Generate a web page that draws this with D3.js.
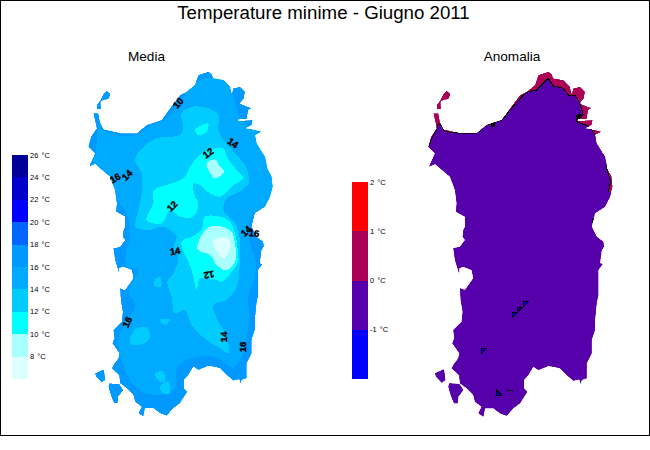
<!DOCTYPE html>
<html><head><meta charset="utf-8">
<script src="https://cdnjs.cloudflare.com/ajax/libs/d3/7.8.5/d3.min.js"></script>
<style>
html,body{margin:0;padding:0;background:#fff}
svg{display:block}
text{font-family:"Liberation Sans",Arial,sans-serif;fill:#000}
path.m{shape-rendering:crispEdges}
</style></head><body>
<svg id="c" width="650" height="450"></svg>
<script>
// Map data on a common grid (units of the map grid, y grows southward)
const mainland=[[355,15],[370,10],[385,5],[395,12],[400,25],[430,30],[450,50],[455,72],[460,55],[480,50],[495,65],[492,85],[480,100],[490,105],[515,115],[505,120],[500,148],[475,148],[475,153],[518,150],[515,165],[495,175],[525,180],[545,185],[525,195],[530,220],[545,245],[555,260],[562,295],[575,320],[578,350],[570,380],[555,410],[525,430],[515,470],[530,500],[550,515],[552,530],[545,540],[540,580],[548,582],[535,600],[535,640],[535,675],[530,700],[525,750],[525,780],[515,810],[515,850],[500,880],[500,925],[485,930],[482,942],[478,928],[460,932],[440,915],[420,895],[400,890],[385,888],[355,900],[340,890],[325,915],[312,930],[312,955],[322,965],[300,1000],[280,1015],[260,1037],[240,1030],[220,1015],[195,1015],[190,1040],[175,1030],[185,1010],[165,995],[160,975],[140,955],[120,940],[117,915],[95,895],[100,885],[115,865],[118,850],[97,820],[103,805],[100,780],[125,755],[128,725],[122,690],[120,655],[135,660],[160,625],[155,600],[130,590],[118,595],[117,610],[105,570],[100,535],[120,530],[135,510],[128,500],[130,480],[135,470],[135,440],[108,425],[110,400],[105,360],[90,320],[60,295],[45,282],[27,290],[35,272],[45,250],[25,230],[33,200],[50,175],[40,130],[55,130],[60,155],[70,178],[125,190],[170,190],[200,165],[245,150],[270,115],[300,75],[320,65],[345,45]];
const asinara=[[80,62],[92,72],[85,88],[70,90],[62,95],[63,118],[50,118],[50,105],[60,92],[70,72]];
const sanPietro=[[45,910],[72,898],[76,930],[65,938],[48,920]];
const santAntioco=[[88,940],[118,942],[130,960],[115,980],[113,1000],[102,1000],[92,975],[85,950]];
const land=[mainland,asinara,sanPietro,santAntioco];

// Isotherm zones of the mean map, painted in this order; tick = legend value at the top of the band
const zone16=[[55,178],[115,197],[170,195],[210,168],[255,148],[290,112],[318,70],[360,30],[400,22],[445,35],[458,72],[470,110],[482,150],[530,185],[548,235],[565,290],[575,325],[578,360],[555,405],[520,432],[505,480],[510,520],[525,560],[525,620],[505,680],[508,750],[500,800],[490,850],[460,893],[420,868],[385,858],[345,863],[320,868],[290,895],[285,955],[230,975],[185,965],[160,945],[130,885],[115,825],[120,790],[165,705],[145,665],[175,600],[140,590],[140,535],[150,510],[140,430],[115,395],[90,345],[60,295],[40,275],[48,250],[50,215]];
const zone14=[[190,230],[230,205],[300,195],[310,175],[305,130],[340,110],[385,115],[415,135],[415,180],[430,210],[465,250],[500,295],[505,340],[480,365],[440,385],[430,420],[470,465],[480,520],[478,600],[470,650],[440,690],[400,705],[415,755],[440,800],[445,850],[420,835],[380,810],[335,765],[315,720],[285,730],[275,680],[262,635],[280,610],[295,560],[280,530],[290,500],[270,480],[250,470],[205,480],[165,470],[170,440],[185,370],[185,310],[165,270]];
const patch14a=[[225,630],[240,620],[243,650],[225,650]];
const patch14b=[[240,750],[270,750],[255,765]];
const patch14c=[[150,820],[165,778],[200,772],[210,800],[195,820]];
const patch14d=[[225,910],[250,905],[255,935],[240,935]];
const patch14e=[[240,950],[265,935],[268,970],[250,970]];
const zone12a=[[200,450],[220,400],[222,360],[260,345],[310,325],[340,275],[375,245],[430,235],[440,260],[470,300],[490,325],[460,345],[420,380],[390,370],[360,345],[340,340],[345,380],[355,400],[340,440],[300,440],[270,420],[245,460]];
const zone12b=[[345,180],[385,160],[380,185],[355,195]];
const zone12c=[[335,500],[365,480],[375,440],[445,450],[465,490],[475,560],[475,575],[425,635],[410,630],[360,625],[350,660],[335,600],[305,515]];
const zone10a=[[380,280],[405,268],[420,290],[432,305],[405,325],[385,300]];
const zone10b=[[352,538],[385,472],[450,480],[465,520],[465,575],[440,600],[410,585],[390,555]];
const zone8a=[[400,510],[445,505],[452,530],[430,565],[410,545]];
const meanZones=[
  {tick:16,rings:[zone16]},
  {tick:14,rings:[zone14,patch14a,patch14b,patch14c,patch14d,patch14e]},
  {tick:12,rings:[zone12a,zone12b,zone12c]},
  {tick:10,rings:[zone10a,zone10b]},
  {tick:8,rings:[zone8a]}
];
const contourText=["10","14","12","16","14","12","14","14","16","12","16","14","16"];
const contourX=[294,459,384,105,141,276,285,498,522,387,141,429,486];
const contourY=[99,219,249,324,315,408,543,483,489,615,756,801,831];
const contourAngle=[-50,35,-35,-30,-45,-45,-10,-45,5,170,-65,-90,-90];

// Anomaly map
const zeroLine=[[25,232],[35,205],[50,175],[55,160],[62,165],[72,182],[90,187],[125,190],[170,190],[200,165],[245,150],[255,140],[270,120],[310,75],[325,65],[350,60],[365,45],[385,25],[400,48],[430,55],[445,75],[465,75],[480,100],[490,135],[470,145],[470,155],[510,170],[525,195],[540,235],[558,265],[560,295],[572,335],[565,365]];
const zeroFarEnd=[[620,370],[620,1080],[0,1080],[0,232]];
const negA=[[310,695],[325,695],[310,710]];
const negB=[[292,712],[308,712],[292,725]];
const negC=[[277,727],[293,727],[277,742]];
const negD=[[185,835],[200,835],[185,850]];
const negE=[[230,960],[245,976],[228,976]];
const extraLoops=[[[262,960],[278,960]],[[470,135],[480,132],[483,142],[472,148]],[[214,156],[222,156],[222,170],[214,170]],[[518,448],[523,448],[523,458],[518,458]]];

// Legends
const tempTicks=[26,24,22,20,18,16,14,12,10,8];
const tempColors=["#000099","#0000cc","#0000ff","#0066ff","#0099ff","#00aaff","#00ccff","#00ffff","#aaffff","#ddffff"];
const anomTicks=[2,1,0,-1];
const anomColors=["#ff0000","#aa0055","#5500aa","#0000ff"];
const titleText="Temperature minime - Giugno 2011";
const panelTitles=["Media","Anomalia"];

const svg=d3.select("#c");
const y=d3.scaleLinear().domain([0,1080]).range([70,430]);
const xMean=d3.scaleLinear().domain([0,600]).range([80,280]);
const xAnom=d3.scaleLinear().domain([0,600]).range([420,620]);
const tempY=d3.scaleLinear().domain([26,6]).range([155,379]);
const anomY=d3.scaleLinear().domain([2,-2]).range([182,379]);
const tempColor=d3.scaleOrdinal().domain(tempTicks).range(tempColors);
const anomColor=d3.scaleOrdinal().domain(anomTicks).range(anomColors);

const lineOf=x=>d3.line().x(d=>x(d[0])).y(d=>y(d[1]));
const ringsPath=(x,rings)=>rings.map(r=>lineOf(x)(r)+"Z").join("");
const smoothPath=(x,rings)=>rings.map(r=>lineOf(x).curve(d3.curveCatmullRomClosed.alpha(0.5))(r)).join("");

const defs=svg.append("defs");
defs.append("clipPath").attr("id","clipMean").append("path").attr("d",ringsPath(xMean,land));
defs.append("clipPath").attr("id","clipAnom").append("path").attr("d",ringsPath(xAnom,land));

// frame
svg.append("path").attr("class","m").attr("fill","none").attr("stroke","#000").attr("stroke-width",1)
  .attr("d",d3.line()([[0.5,0.5],[649.5,0.5],[649.5,435.5],[0.5,435.5]])+"Z");

// titles
svg.append("text").attr("x",323.5).attr("y",19).attr("text-anchor","middle").attr("font-size",18.7).text(titleText);
svg.append("text").attr("x",146.5).attr("y",61).attr("text-anchor","middle").attr("font-size",13.6).text(panelTitles[0]);
svg.append("text").attr("x",512).attr("y",61).attr("text-anchor","middle").attr("font-size",13.6).text(panelTitles[1]);

// mean map
const gm=svg.append("g").attr("clip-path","url(#clipMean)");
gm.append("path").attr("class","m").attr("d",ringsPath(xMean,land)).attr("fill",tempColor(18));
gm.selectAll("path.z").data(meanZones).join("path").attr("class","m z")
  .attr("fill",d=>tempColor(d.tick)).attr("d",d=>smoothPath(xMean,d.rings));
svg.selectAll("text.cl").data(contourText).join("text").attr("class","cl")
  .attr("font-size",9.5).attr("font-weight","bold").attr("text-anchor","middle").attr("dominant-baseline","central")
  .attr("stroke","#000").attr("stroke-width",0.4)
  .attr("transform",(d,i)=>`translate(${xMean(contourX[i])},${y(contourY[i])}) rotate(${contourAngle[i]})`)
  .text(d=>d);

// anomaly map
const ga=svg.append("g").attr("clip-path","url(#clipAnom)");
ga.append("path").attr("class","m").attr("d",ringsPath(xAnom,land)).attr("fill",anomColor(1));
ga.append("path").attr("class","m").attr("d",ringsPath(xAnom,[zeroLine.concat(zeroFarEnd)])).attr("fill",anomColor(0));
ga.append("path").attr("class","m").attr("d",lineOf(xAnom)(zeroLine)).attr("fill","none").attr("stroke","#000").attr("stroke-width",1);
ga.selectAll("path.neg").data([negA,negB,negC,negD,negE]).join("path").attr("class","m neg")
  .attr("d",d=>ringsPath(xAnom,[d])).attr("fill",anomColor(-1)).attr("stroke","#000");
ga.selectAll("path.loop").data(extraLoops).join("path").attr("class","m loop")
  .attr("d",d=>ringsPath(xAnom,[d])).attr("fill","#000").attr("stroke","#000");

// legends
svg.selectAll("rect.t").data(tempTicks).join("rect").attr("class","t").attr("shape-rendering","crispEdges")
  .attr("x",12).attr("width",16).attr("y",d=>tempY(d)).attr("height",d=>tempY(d-2)-tempY(d)).attr("fill",d=>tempColor(d));
svg.selectAll("text.t").data(tempTicks).join("text").attr("class","t").attr("x",30).attr("y",d=>tempY(d)+2.5)
  .attr("font-size",7.5).attr("word-spacing",1).text(d=>d+" °C");
svg.selectAll("rect.a").data(anomTicks).join("rect").attr("class","a").attr("shape-rendering","crispEdges")
  .attr("x",352).attr("width",16).attr("y",d=>anomY(d)).attr("height",d=>anomY(d-1)-anomY(d)).attr("fill",d=>anomColor(d));
svg.selectAll("text.a").data(anomTicks).join("text").attr("class","a").attr("x",370).attr("y",d=>anomY(d)+2.5)
  .attr("font-size",7.5).attr("word-spacing",1).text(d=>d+" °C");
</script>
</body></html>
